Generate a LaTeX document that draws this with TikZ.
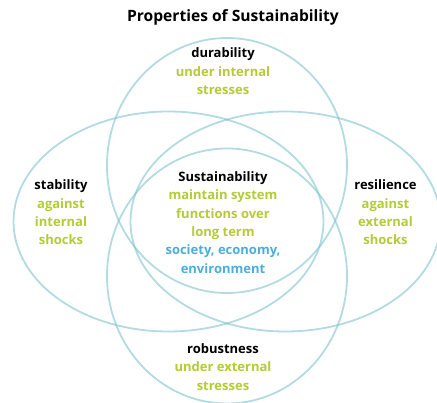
\documentclass[tikz,border=0pt]{standalone}
\usepackage{fontspec}
\setmainfont{Open Sans}
\definecolor{ringcol}{RGB}{126,196,206}
\definecolor{limecol}{RGB}{178,204,52}
\definecolor{skycol}{RGB}{74,174,220}
\begin{document}
\begin{tikzpicture}[x=1pt,y=-1pt,
  ring/.style={draw=ringcol,line width=1.8pt,draw opacity=0.6},
  label/.style={align=center,inner sep=0pt,font=\bfseries\fontsize{13}{18.4}\selectfont},
  headline/.style={inner sep=0pt,font=\bfseries\fontsize{15.6}{18}\selectfont}]
\useasboundingbox (0,0) rectangle (437,403);

% four overlapping property ellipses
\draw[ring] (227,165.5) ellipse [x radius=120pt, y radius=127.5pt];
\draw[ring] (227,276)   ellipse [x radius=120pt, y radius=127.5pt];
\draw[ring] (168.5,221.5) ellipse [x radius=155pt, y radius=110pt];
\draw[ring] (285.5,221.5) ellipse [x radius=155pt, y radius=110pt];

\node[headline] (title) at (233,17) {Properties of Sustainability};

\node[label] (durability) at (223,71.5)
  {durability\\\color{limecol}under internal\\\color{limecol}stresses};
\node[label] (core) at (223,222.5)
  {Sustainability\\\color{limecol}maintain system\\\color{limecol}functions over\\\color{limecol}long term\\\color{skycol}society, economy,\\\color{skycol}environment};
\node[label] (stability) at (61,212.5)
  {stability\\\color{limecol}against\\\color{limecol}internal\\\color{limecol}shocks};
\node[label] (resilience) at (385.5,212.5)
  {resilience\\\color{limecol}against\\\color{limecol}external\\\color{limecol}shocks};
\node[label] (robustness) at (223,367)
  {robustness\\\color{limecol}under external\\\color{limecol}stresses};
\end{tikzpicture}
\end{document}
